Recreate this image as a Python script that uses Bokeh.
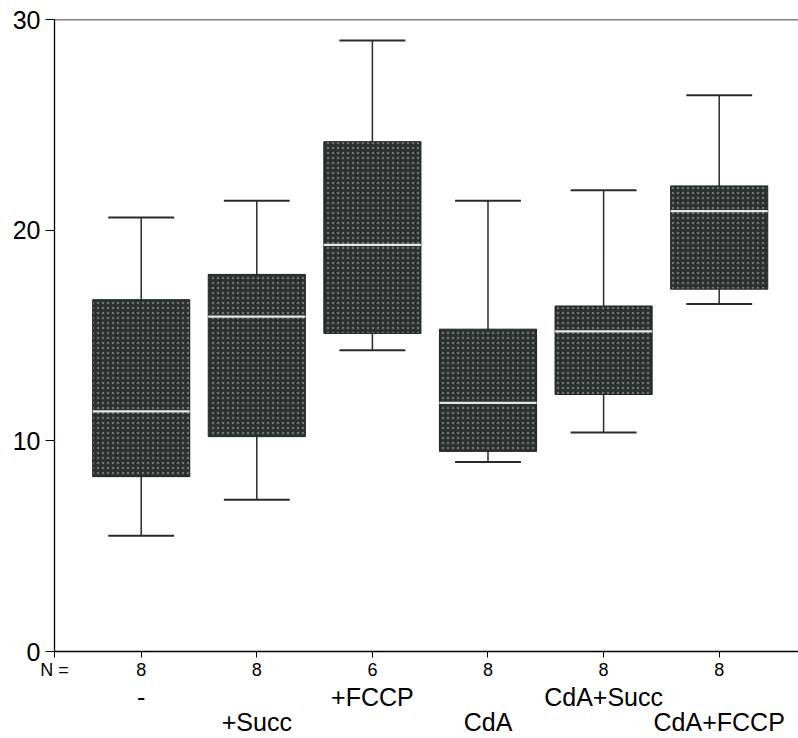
from bokeh.plotting import figure
from bokeh.models import Range1d, FixedTicker, ColumnDataSource, Span, LinearAxis
from bokeh.embed import file_html
from bokeh.resources import INLINE

# ---- data ----
categories = ["-", "+Succ", "+FCCP", "CdA", "CdA+Succ", "CdA+FCCP"]
n_values = [8, 8, 6, 8, 8, 8]
whisker_low = [5.5, 7.2, 14.3, 9.0, 10.4, 16.5]
q1 = [8.3, 10.2, 15.1, 9.5, 12.2, 17.2]
median = [11.4, 15.9, 19.3, 11.8, 15.2, 20.9]
q3 = [16.7, 17.9, 24.2, 15.3, 16.4, 22.1]
whisker_high = [20.6, 21.4, 29.0, 21.4, 21.9, 26.4]
y_ticks = [0, 10, 20, 30]

# ---- layout / style ----
W, H = 798, 738
BORDER_L, BORDER_R, BORDER_T, BORDER_B = 54, 0, 19, 86
X_START, X_END = 0.25, 6.686
Y_MAX = 30
BOX_W = 0.84
CAP_W = 0.57
FONT = "Liberation Sans"
label_row = [1, 2, 1, 2, 1, 2]   # staggered category label rows

xs = list(range(1, len(categories) + 1))

p = figure(width=W, height=H, output_backend="svg", toolbar_location=None,
           x_range=Range1d(X_START, X_END), y_range=Range1d(0, Y_MAX),
           min_border_left=BORDER_L, min_border_right=BORDER_R,
           min_border_top=BORDER_T, min_border_bottom=BORDER_B)
p.outline_line_color = None
p.xgrid.visible = False
p.ygrid.visible = False
p.background_fill_color = "white"
p.border_fill_color = "white"

src = ColumnDataSource(dict(
    x=xs, lo=whisker_low, q1=q1, med=median, q3=q3, hi=whisker_high,
    x0=[x - BOX_W / 2 for x in xs], x1=[x + BOX_W / 2 for x in xs],
    c0=[x - CAP_W / 2 for x in xs], c1=[x + CAP_W / 2 for x in xs],
))

# whiskers
p.segment(x0="x", y0="q3", x1="x", y1="hi", source=src, line_color="#2a2a2a", line_width=1.5)
p.segment(x0="x", y0="lo", x1="x", y1="q1", source=src, line_color="#2a2a2a", line_width=1.5)
p.segment(x0="c0", y0="hi", x1="c1", y1="hi", source=src, line_color="#2a2a2a", line_width=2)
p.segment(x0="c0", y0="lo", x1="c1", y1="lo", source=src, line_color="#2a2a2a", line_width=2)

# boxes
p.vbar(x="x", width=BOX_W, bottom="q1", top="q3", source=src,
       fill_color="#2c3130", line_color="#1e2221", line_width=1,
       hatch_pattern="dot", hatch_color="#d8dcd8", hatch_alpha=0.4,
       hatch_scale=5, hatch_weight=1)
# medians
p.segment(x0="x0", y0="med", x1="x1", y1="med", source=src,
          line_color="#e6e8e6", line_width=2.2)

# top frame line
p.add_layout(Span(location=Y_MAX, dimension="width", line_color="black", line_width=1.3))

# y axis
ya = p.yaxis[0]
ya.ticker = FixedTicker(ticks=y_ticks)
ya.major_tick_out = 9
ya.major_tick_in = 0
ya.minor_tick_line_color = None
ya.major_label_standoff = 5
ya.major_label_text_font = FONT
ya.major_label_text_font_size = "25px"
ya.major_label_text_color = "black"
ya.axis_line_color = "black"
ya.axis_line_width = 1.3
ya.major_tick_line_color = "black"

# x axis: N per group, plus the "N =" caption at the left end
xa = p.xaxis[0]
xa.ticker = FixedTicker(ticks=[X_START] + xs)
overrides = {X_START: "N ="}
overrides.update({x: str(n) for x, n in zip(xs, n_values)})
xa.major_label_overrides = overrides
xa.major_tick_out = 6
xa.major_tick_in = 0
xa.minor_tick_line_color = None
xa.major_label_standoff = 2
xa.major_label_text_font = FONT
xa.major_label_text_font_size = "18px"
xa.major_label_text_color = "black"
xa.axis_line_color = "black"
xa.axis_line_width = 1.3
xa.major_tick_line_color = "black"

# category names, staggered on two rows below the N row
names = {x: ("\n" * (r - 1)) + c for x, c, r in zip(xs, categories, label_row)}
cat_axis = LinearAxis(ticker=FixedTicker(ticks=xs), major_label_overrides=names,
                      axis_line_color=None, major_tick_line_color=None,
                      minor_tick_line_color=None, major_tick_out=0, major_tick_in=0,
                      minor_tick_out=0, major_label_standoff=0,
                      major_label_text_font=FONT, major_label_text_font_size="25px",
                      major_label_text_line_height=0.9,
                      major_label_text_color="black")
p.add_layout(cat_axis, "below")

open("out.html", "w").write(file_html(p, INLINE))
